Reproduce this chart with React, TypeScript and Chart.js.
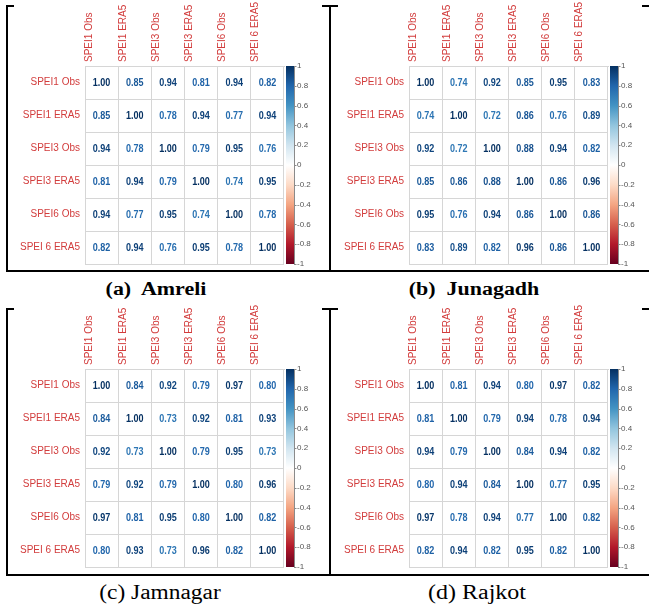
import React, { useEffect, useRef } from "react";
import { Chart, registerables } from "chart.js";

Chart.register(...registerables);

// ---------- DATA ----------
const variables = ["SPEI1 Obs", "SPEI1 ERA5", "SPEI3 Obs", "SPEI3 ERA5", "SPEI6 Obs", "SPEI 6 ERA5"];

const amreli = [
  [1.0, 0.85, 0.94, 0.81, 0.94, 0.82],
  [0.85, 1.0, 0.78, 0.94, 0.77, 0.94],
  [0.94, 0.78, 1.0, 0.79, 0.95, 0.76],
  [0.81, 0.94, 0.79, 1.0, 0.74, 0.95],
  [0.94, 0.77, 0.95, 0.74, 1.0, 0.78],
  [0.82, 0.94, 0.76, 0.95, 0.78, 1.0],
];

const junagadh = [
  [1.0, 0.74, 0.92, 0.85, 0.95, 0.83],
  [0.74, 1.0, 0.72, 0.86, 0.76, 0.89],
  [0.92, 0.72, 1.0, 0.88, 0.94, 0.82],
  [0.85, 0.86, 0.88, 1.0, 0.86, 0.96],
  [0.95, 0.76, 0.94, 0.86, 1.0, 0.86],
  [0.83, 0.89, 0.82, 0.96, 0.86, 1.0],
];

const jamnagar = [
  [1.0, 0.84, 0.92, 0.79, 0.97, 0.8],
  [0.84, 1.0, 0.73, 0.92, 0.81, 0.93],
  [0.92, 0.73, 1.0, 0.79, 0.95, 0.73],
  [0.79, 0.92, 0.79, 1.0, 0.8, 0.96],
  [0.97, 0.81, 0.95, 0.8, 1.0, 0.82],
  [0.8, 0.93, 0.73, 0.96, 0.82, 1.0],
];

const rajkot = [
  [1.0, 0.81, 0.94, 0.8, 0.97, 0.82],
  [0.81, 1.0, 0.79, 0.94, 0.78, 0.94],
  [0.94, 0.79, 1.0, 0.84, 0.94, 0.82],
  [0.8, 0.94, 0.84, 1.0, 0.77, 0.95],
  [0.97, 0.78, 0.94, 0.77, 1.0, 0.82],
  [0.82, 0.94, 0.82, 0.95, 0.82, 1.0],
];

const colorbarMin = -1;
const colorbarMax = 1;
const colorbarStep = 0.2;

// RdBu palette (from -1 to 1)
const RDBU = [
  "#67001F", "#B2182B", "#D6604D", "#F4A582", "#FDDBC7", "#FFFFFF",
  "#D1E5F0", "#92C5DE", "#4393C3", "#2166AC", "#053061",
];

// ---------- STYLE ----------
const GRID = "#d6d6d6";
const LABEL = "#d23c3c";
const SANS = "'Liberation Sans', Arial, sans-serif";
const SERIF = "'Liberation Serif', 'Times New Roman', serif";

function hexToRgb(h: string) {
  const n = parseInt(h.slice(1), 16);
  return [(n >> 16) & 255, (n >> 8) & 255, n & 255];
}

function colorFor(v: number) {
  const pos = ((v + 1) / 2) * (RDBU.length - 1);
  const i = Math.min(Math.floor(pos), RDBU.length - 2);
  const t = pos - i;
  const a = hexToRgb(RDBU[i]);
  const b = hexToRgb(RDBU[i + 1]);
  const c = a.map((x, k) => Math.round(x + (b[k] - x) * t));
  return `rgb(${c[0]},${c[1]},${c[2]})`;
}

function zeroPad(s: any) {
  s.paddingTop = 0;
  s.paddingBottom = 0;
  s.paddingLeft = 0;
  s.paddingRight = 0;
}

const numbersPlugin = {
  id: "cellNumbers",
  afterDatasetsDraw(chart: any) {
    const ctx = chart.ctx;
    const meta = chart.getDatasetMeta(0);
    const data = chart.data.datasets[0].data;
    ctx.save();
    ctx.font = `bold 10.5px ${SANS}`;
    ctx.textAlign = "center";
    ctx.textBaseline = "middle";
    meta.data.forEach((el: any, i: number) => {
      const v = data[i].v;
      ctx.save();
      ctx.translate(el.x, el.y + 1);
      ctx.scale(0.86, 1);
      ctx.fillStyle = colorFor(v);
      ctx.fillText(v.toFixed(2), 0, 0);
      ctx.restore();
    });
    ctx.restore();
  },
};

const colorbarPlugin = {
  id: "colorbar",
  afterDraw(chart: any) {
    const ctx = chart.ctx;
    const s = chart.scales.cb;
    const ca = chart.chartArea;
    const x0 = ca.right + 2;
    const w = 8;
    const top = s.getPixelForValue(colorbarMax);
    const bot = s.getPixelForValue(colorbarMin);
    const g = ctx.createLinearGradient(0, bot, 0, top);
    RDBU.forEach((c, i) => g.addColorStop(i / (RDBU.length - 1), c));
    ctx.save();
    ctx.fillStyle = g;
    ctx.fillRect(x0, top, w, bot - top);
    ctx.strokeStyle = "#8a8a8a";
    ctx.lineWidth = 1;
    ctx.beginPath();
    ctx.moveTo(x0 + w + 0.5, top);
    ctx.lineTo(x0 + w + 0.5, bot);
    s.ticks.forEach((t: any) => {
      const y = Math.round(s.getPixelForValue(t.value)) + 0.5;
      ctx.moveTo(x0 + w, y);
      ctx.lineTo(x0 + w + 2.5, y);
    });
    ctx.stroke();
    ctx.restore();
  },
};

const Y_AXIS_W = 75;
const X_AXIS_H = 64;
const CB_W = 40;
const GRID_W = 199;
const GRID_H = 198;
const BOTTOM_PAD = 8;

function CorrPanel({ matrix, gridLeft, gridTop }: { matrix: number[][]; gridLeft: number; gridTop: number }) {
  const ref = useRef<HTMLCanvasElement>(null);
  useEffect(() => {
    const points: any[] = [];
    matrix.forEach((row, r) =>
      row.forEach((v, c) => points.push({ x: variables[c], y: variables[r], v }))
    );
    const chart = new Chart(ref.current as HTMLCanvasElement, {
      type: "scatter",
      data: {
        datasets: [{ data: points, pointRadius: 0, pointHoverRadius: 0, backgroundColor: "transparent" }],
      },
      options: {
        animation: false,
        responsive: false,
        events: [],
        layout: { padding: { top: 0, left: 0, right: 0, bottom: BOTTOM_PAD } },
        plugins: { legend: { display: false }, tooltip: { enabled: false } },
        scales: {
          x: {
            type: "category",
            labels: variables,
            position: "top",
            offset: true,
            grid: { offset: true, color: GRID, drawTicks: false },
            border: { color: GRID },
            ticks: {
              autoSkip: false,
              maxRotation: 90,
              minRotation: 90,
              padding: 4,
              color: LABEL,
              font: { size: 10, family: SANS },
            },
            afterFit: (s: any) => {
              s.height = X_AXIS_H;
              zeroPad(s);
            },
          },
          y: {
            type: "category",
            labels: variables,
            position: "left",
            offset: true,
            grid: { offset: true, color: GRID, drawTicks: false },
            border: { color: GRID },
            ticks: {
              autoSkip: false,
              padding: 5,
              color: LABEL,
              font: { size: 10, family: SANS },
            },
            afterFit: (s: any) => {
              s.width = Y_AXIS_W;
              zeroPad(s);
            },
          },
          cb: {
            type: "linear",
            position: "right",
            min: colorbarMin,
            max: colorbarMax,
            grid: { display: false, drawTicks: false },
            border: { display: false },
            ticks: {
              stepSize: colorbarStep,
              padding: 13,
              color: "#555",
              font: { size: 8, family: SANS },
              callback: (v: any) => String(Math.round(Number(v) * 10) / 10),
            },
            afterFit: (s: any) => {
              s.width = CB_W;
              zeroPad(s);
            },
          },
        },
      } as any,
      plugins: [numbersPlugin, colorbarPlugin],
    });
    return () => chart.destroy();
  }, [matrix]);

  return (
    <canvas
      ref={ref}
      width={Y_AXIS_W + GRID_W + CB_W}
      height={X_AXIS_H + GRID_H + BOTTOM_PAD}
      style={{ position: "absolute", left: gridLeft - Y_AXIS_W, top: gridTop - X_AXIS_H }}
    />
  );
}

function Line({ x, y, w, h }: { x: number; y: number; w: number; h: number }) {
  return <div style={{ position: "absolute", left: x, top: y, width: w, height: h, background: "#000" }} />;
}

function Caption({ text, cx, top, bold, size, lh, sx }: any) {
  return (
    <div
      style={{
        position: "absolute",
        left: cx - 100,
        top,
        width: 200,
        textAlign: "center",
        fontFamily: SERIF,
        fontWeight: bold ? "bold" : "normal",
        fontSize: size,
        lineHeight: `${lh}px`,
        whiteSpace: "pre",
        transform: `scaleX(${sx})`,
        color: "#000",
      }}
    >
      {text}
    </div>
  );
}

export default function App() {
  return (
    <div
      style={{
        position: "absolute",
        left: 0,
        top: 0,
        width: 649,
        height: 609,
        background: "#fff",
        overflow: "hidden",
      }}
    >
      {/* table frame, top half */}
      <Line x={6} y={5} w={8} h={2} />
      <Line x={322} y={5} w={16} h={2} />
      <Line x={642} y={5} w={8} h={2} />
      <Line x={6} y={5} w={2} h={267} />
      <Line x={329} y={5} w={2} h={267} />
      <Line x={6} y={270} w={643} h={2} />
      {/* table frame, bottom half */}
      <Line x={6} y={308} w={8} h={2} />
      <Line x={322} y={308} w={16} h={2} />
      <Line x={642} y={308} w={8} h={2} />
      <Line x={6} y={308} w={2} h={268} />
      <Line x={329} y={308} w={2} h={268} />
      <Line x={6} y={574} w={643} h={2} />

      <CorrPanel matrix={amreli} gridLeft={85} gridTop={66} />
      <CorrPanel matrix={junagadh} gridLeft={409} gridTop={66} />
      <CorrPanel matrix={jamnagar} gridLeft={85} gridTop={369} />
      <CorrPanel matrix={rajkot} gridLeft={409} gridTop={369} />

      <Caption text={"(a)  Amreli"} cx={156} top={278} bold size={18} lh={22} sx={1.22} />
      <Caption text={"(b)  Junagadh"} cx={474} top={278} bold size={18} lh={22} sx={1.22} />
      <Caption text={"(c) Jamnagar"} cx={160} top={580} size={20} lh={24} sx={1.17} />
      <Caption text={"(d) Rajkot"} cx={477} top={580} size={20} lh={24} sx={1.2} />
    </div>
  );
}
